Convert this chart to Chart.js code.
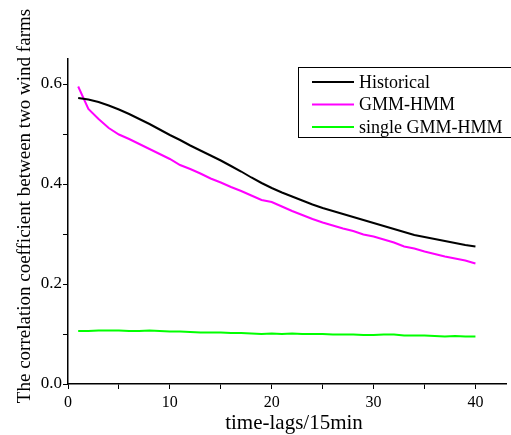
<!DOCTYPE html>
<html>
<head>
<meta charset="utf-8">
<script src="https://cdn.jsdelivr.net/npm/chart.js@4"></script>
<style>
  html, body { margin: 0; padding: 0; background: #fff; }
  #wrap { width: 511px; height: 435px; }
</style>
</head>
<body>
<div id="wrap"><canvas id="corrChart" width="511" height="435"></canvas></div>
<script>
const lags = Array.from({ length: 40 }, (_, i) => i + 1);

const historical = [
  0.572, 0.569, 0.564, 0.557, 0.549, 0.540, 0.530, 0.520, 0.509, 0.498,
  0.488, 0.477, 0.467, 0.457, 0.447, 0.436, 0.425, 0.413, 0.402, 0.392,
  0.383, 0.375, 0.367, 0.359, 0.352, 0.346, 0.340, 0.334, 0.328, 0.322,
  0.316, 0.310, 0.304, 0.298, 0.294, 0.290, 0.286, 0.282, 0.278, 0.275,
];

const gmmHmm = [
  0.595, 0.550, 0.530, 0.512, 0.499, 0.490, 0.480, 0.470, 0.460, 0.450,
  0.438, 0.430, 0.421, 0.411, 0.403, 0.394, 0.386, 0.377, 0.368, 0.364,
  0.355, 0.346, 0.338, 0.330, 0.323, 0.317, 0.311, 0.306, 0.299, 0.295,
  0.289, 0.283, 0.275, 0.271, 0.265, 0.260, 0.255, 0.251, 0.247, 0.241,
];

const singleGmmHmm = [
  0.106, 0.106, 0.107, 0.107, 0.107, 0.106, 0.106, 0.107, 0.106, 0.105,
  0.105, 0.104, 0.103, 0.103, 0.103, 0.102, 0.102, 0.101, 0.100, 0.101,
  0.100, 0.101, 0.100, 0.100, 0.100, 0.099, 0.099, 0.099, 0.098, 0.098,
  0.099, 0.099, 0.097, 0.097, 0.097, 0.096, 0.095, 0.096, 0.095, 0.095,
];

const seriesNames = ['Historical', 'GMM-HMM', 'single GMM-HMM'];
const seriesColors = ['#000000', '#ff00ff', '#00ff00'];
const xTickLabels = [0, 10, 20, 30, 40];
const yTickLabels = ['0.0', '0.2', '0.4', '0.6'];
const xTitle = 'time-lags/15min';
const yTitle = 'The correlation coefficient between two wind farms';

const serif = '"Liberation Serif", "DejaVu Serif", serif';

function toPoints(values) {
  return values.map((v, i) => ({ x: lags[i], y: v }));
}

// axis titles, placed where the original has them (y title sits a bit above centre)
const axisTitles = {
  id: 'axisTitles',
  afterDraw(chart) {
    const ctx = chart.ctx;
    ctx.save();
    ctx.fillStyle = '#000';
    ctx.textAlign = 'center';
    ctx.textBaseline = 'middle';

    ctx.font = '21px ' + serif;
    ctx.fillText(xTitle, 294, 423);

    ctx.font = '19px ' + serif;
    ctx.translate(25, 206);
    ctx.rotate(-Math.PI / 2);
    ctx.fillText(yTitle, 0, 0);
    ctx.restore();
  },
};

// legend box drawn inside the plot, top right, like the original
const boxLegend = {
  id: 'boxLegend',
  afterDraw(chart) {
    const ctx = chart.ctx;
    const left = 298;
    const top = 67;
    const bottom = 137;
    ctx.save();
    ctx.fillStyle = '#fff';
    ctx.fillRect(left, top, 520 - left, bottom - top);
    ctx.strokeStyle = '#000';
    ctx.lineWidth = 1;
    ctx.strokeRect(left + 0.5, top + 0.5, 520 - left, bottom - top);
    ctx.font = '18px ' + serif;
    ctx.textBaseline = 'middle';
    chart.data.datasets.forEach((ds, i) => {
      const y = 82 + i * 22.5;
      ctx.strokeStyle = ds.borderColor;
      ctx.lineWidth = 2;
      ctx.beginPath();
      ctx.moveTo(312, y);
      ctx.lineTo(354, y);
      ctx.stroke();
      ctx.fillStyle = '#000';
      ctx.fillText(ds.label, 359, y + 1);
    });
    ctx.restore();
  },
};

new Chart(document.getElementById('corrChart'), {
  type: 'line',
  data: {
    datasets: [
      { label: seriesNames[0], data: toPoints(historical) },
      { label: seriesNames[1], data: toPoints(gmmHmm) },
      { label: seriesNames[2], data: toPoints(singleGmmHmm) },
    ].map((ds, i) => ({
      ...ds,
      borderColor: seriesColors[i],
      borderWidth: 2,
      pointRadius: 0,
      tension: 0,
    })),
  },
  options: {
    responsive: false,
    animation: false,
    layout: { padding: { top: 59, right: 5, left: 0, bottom: 0 } },
    plugins: {
      legend: { display: false },
      tooltip: { enabled: false },
    },
    scales: {
      x: {
        type: 'linear',
        min: 0,
        max: 43,
        grid: { drawOnChartArea: false, color: '#000', tickLength: 5, tickColor: '#000' },
        border: { color: '#000', width: 1.5 },
        ticks: {
          stepSize: 5,
          includeBounds: false,
          autoSkip: false,
          maxRotation: 0,
          color: '#000',
          font: { family: serif, size: 16 },
          padding: 4,
          callback: (v) => (xTickLabels.includes(v) ? String(v) : ''),
        },
        afterFit: (scale) => { scale.height = 51; },
      },
      y: {
        min: 0,
        max: 0.65,
        grid: { drawOnChartArea: false, color: '#000', tickLength: 5, tickColor: '#000' },
        border: { color: '#000', width: 1.5 },
        ticks: {
          stepSize: 0.1,
          includeBounds: false,
          color: '#000',
          font: { family: serif, size: 17 },
          padding: 1,
          callback: (v) => {
            const s = v.toFixed(1);
            return yTickLabels.includes(s) ? s : '';
          },
        },
        afterFit: (scale) => { scale.width = 68; },
      },
    },
  },
  plugins: [boxLegend, axisTitles],
});
</script>
</body>
</html>
